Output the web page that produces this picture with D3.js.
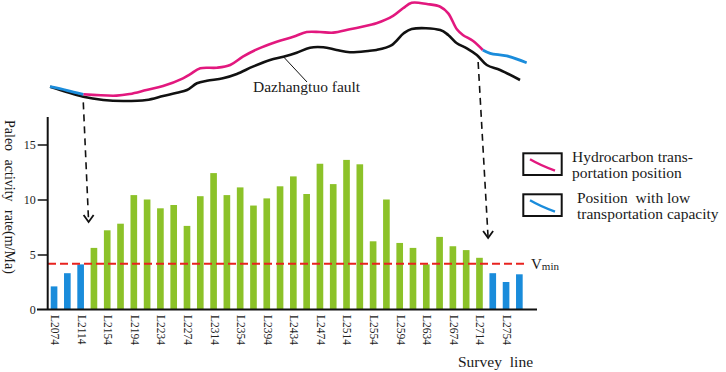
<!DOCTYPE html>
<html lang="en">
<head>
<meta charset="UTF-8">
<title>Paleo activity rate along the Dazhangtuo fault</title>
<script src="https://cdn.jsdelivr.net/npm/d3@7"></script>
<style>
  body { margin: 0; background: #fff; }
  svg { display: block; }
</style>
</head>
<body>
<svg id="chart" width="726" height="372"></svg>
<script>
  // survey lines, one bar each
  const surveyLines = [
    "L2074", "L2094", "L2114", "L2134", "L2154", "L2174", "L2194", "L2214", "L2234",
    "L2254", "L2274", "L2294", "L2314", "L2334", "L2354", "L2374", "L2394", "L2414",
    "L2434", "L2454", "L2474", "L2494", "L2514", "L2534", "L2554", "L2574", "L2594",
    "L2614", "L2634", "L2654", "L2674", "L2694", "L2714", "L2734", "L2754", "L2774"
  ];
  // paleo activity rate (m/Ma)
  const rates = [
    2.1, 3.3, 4.1, 5.6, 7.2, 7.8, 10.4, 10.0, 9.2,
    9.5, 7.6, 10.3, 12.4, 10.4, 11.1, 9.45, 10.1, 11.2,
    12.1, 10.5, 13.25, 11.4, 13.6, 13.2, 6.2, 10.0, 6.05,
    5.6, 4.1, 6.6, 5.75, 5.4, 4.7, 3.3, 2.5, 3.2
  ];
  const lowCapacity = ["L2074", "L2094", "L2114", "L2734", "L2754", "L2774"];
  const labelledLines = surveyLines.filter((d, i) => i % 2 === 0);
  const yTicks = [0, 5, 10, 15];
  const vMin = 4.15;

  // schematic profile above the chart: [survey line number, relative elevation]
  const faultProfile = [
    [2068, 17.4], [2118, 7.9], [2148, 4.8], [2178, 3.8], [2213, 4.8], [2238, 8.6],
    [2259, 11.7], [2274, 14.3], [2289, 20.7], [2304, 23.1], [2328, 25.4], [2349, 29.5],
    [2373, 36.5], [2399, 42.9], [2419, 46], [2439, 49.8], [2459, 54.6], [2479, 55],
    [2499, 52.4], [2519, 50.2], [2549, 51.7], [2559, 52.4], [2582, 57.1], [2600, 68.3],
    [2612, 72.4], [2655, 71.4], [2667, 66.7], [2680, 58.8], [2695, 54], [2710, 47.6],
    [2725, 38.1], [2745, 33.3], [2775, 23.8]
  ];
  const transportProfile = [
    [2118, 10.2], [2168, 8.9], [2188, 10.5], [2213, 14.3], [2238, 18.1], [2268, 25.4],
    [2279, 29.5], [2294, 35], [2319, 35.5], [2339, 38.1], [2358, 46], [2379, 53],
    [2409, 60.3], [2434, 65], [2454, 69.5], [2474, 69.5], [2494, 68.9], [2519, 72.1],
    [2549, 76.2], [2559, 77.8], [2584, 84.8], [2599, 92.1], [2612, 97.4], [2635, 96.2],
    [2655, 93.6], [2667, 87.3], [2680, 72.1], [2689, 66.7], [2704, 61.2], [2719, 52.4]
  ];
  const lowWestProfile = [[2068, 17.4], [2093, 14], [2118, 10.2]];
  const lowEastProfile = [[2719, 52.4], [2730, 49.2], [2755, 46.7], [2785, 40.3]];

  // arrows: from the profile (line, elevation) down to the chart (line, rate)
  const arrows = [
    { from: [2118, 2.5], to: [2126, 7.95] },
    { from: [2712, 41], to: [2727, 6.5] }
  ];

  const green = "#8cc229", blue = "#1a8cdb", pink = "#e2187e";
  const serif = "\"Liberation Serif\", \"Times New Roman\", serif";

  const svg = d3.select("#chart")
    .attr("font-family", serif)
    .attr("fill", "#1a1a1a");

  const x = d3.scaleBand()
    .domain(surveyLines)
    .range([47.4, 526])
    .paddingInner(0.5)
    .paddingOuter(0.25);

  const y = d3.scaleLinear()
    .domain([0, 17.5])
    .range([309.5, 117]);

  // profile scales
  const xLine = d3.scaleLinear()
    .domain([2074, 2774])
    .range([x("L2074") + x.bandwidth() / 2, x("L2774") + x.bandwidth() / 2]);
  const yElev = d3.scaleLinear().domain([0, 100]).range([105, 0]);

  const line = d3.line()
    .x(d => xLine(d[0]))
    .y(d => yElev(d[1]))
    .curve(d3.curveCatmullRom.alpha(0.5));

  svg.append("path").datum(faultProfile)
    .attr("d", line).attr("fill", "none")
    .attr("stroke", "#111").attr("stroke-width", 2.6);
  svg.append("path").datum(transportProfile)
    .attr("d", line).attr("fill", "none")
    .attr("stroke", pink).attr("stroke-width", 2.6);
  [lowWestProfile, lowEastProfile].forEach(p => {
    svg.append("path").datum(p)
      .attr("d", line).attr("fill", "none")
      .attr("stroke", blue).attr("stroke-width", 2.8);
  });

  // fault label with leader line
  svg.append("line")
    .attr("x1", xLine(2419)).attr("y1", yElev(46))
    .attr("x2", 307).attr("y2", 82)
    .attr("stroke", "#111").attr("stroke-width", 1);
  svg.append("text")
    .attr("x", 253).attr("y", 92)
    .attr("font-family", serif)
    .attr("font-size", 15.5)
    .text("Dazhangtuo fault");

  // bars
  svg.append("g")
    .selectAll("rect")
    .data(surveyLines)
    .join("rect")
    .attr("x", d => x(d))
    .attr("width", x.bandwidth())
    .attr("y", (d, i) => y(rates[i]))
    .attr("height", (d, i) => y(0) - y(rates[i]))
    .attr("fill", d => lowCapacity.includes(d) ? blue : green);

  // Vmin threshold
  svg.append("line")
    .attr("x1", 48).attr("x2", 527)
    .attr("y1", y(vMin)).attr("y2", y(vMin))
    .attr("stroke", "#e8231f").attr("stroke-width", 2)
    .attr("stroke-dasharray", "8,4");
  const vt = svg.append("text")
    .attr("x", 531).attr("y", y(vMin) + 5)
    .attr("font-family", serif)
    .attr("font-size", 15);
  vt.append("tspan").text("V");
  vt.append("tspan").attr("font-size", 11).attr("dy", 1).text("min");

  // y axis
  const yAxis = svg.append("g")
    .attr("transform", "translate(47.7,0)")
    .call(d3.axisLeft(y).tickValues(yTicks).tickSize(10).tickPadding(2))
    .call(g => g.select(".domain").remove());
  yAxis.selectAll("line").attr("stroke", "#111").attr("stroke-width", 1.5);
  yAxis.selectAll("text")
    .attr("font-family", serif)
    .attr("font-size", 12).attr("fill", "#222");
  yAxis.selectAll(".tick").filter(d => d === 0).select("line").remove();

  svg.append("line")
    .attr("x1", 47.7).attr("x2", 47.7)
    .attr("y1", y(17.5)).attr("y2", y(0))
    .attr("stroke", "#111").attr("stroke-width", 2);
  svg.append("line")
    .attr("x1", 37).attr("x2", 537)
    .attr("y1", y(0)).attr("y2", y(0))
    .attr("stroke", "#111").attr("stroke-width", 2);

  // survey line labels (rotated)
  svg.append("g")
    .selectAll("text")
    .data(labelledLines)
    .join("text")
    .attr("transform", d => `translate(${x(d) + x.bandwidth() / 2 + 1},315) rotate(90)`)
    .attr("dy", "0.35em")
    .attr("font-family", serif)
    .attr("font-size", 11.5)
    .attr("fill", "#222")
    .text(d => d);

  svg.append("text")
    .attr("x", 458).attr("y", 367)
    .attr("font-family", serif)
    .attr("font-size", 15.5)
    .attr("word-spacing", 4)
    .text("Survey line");

  svg.append("text")
    .attr("transform", "translate(10,120) rotate(90)")
    .attr("dy", "0.35em")
    .attr("font-family", serif)
    .attr("font-size", 14)
    .attr("word-spacing", 5)
    .text("Paleo activity rate(m/Ma)");

  // dashed arrows
  arrows.forEach(a => {
    const x1 = xLine(a.from[0]), y1 = yElev(a.from[1]);
    const x2 = xLine(a.to[0]), y2 = y(a.to[1]);
    svg.append("line")
      .attr("x1", x1).attr("y1", y1).attr("x2", x2).attr("y2", y2)
      .attr("stroke", "#111").attr("stroke-width", 1.6)
      .attr("stroke-dasharray", "7,5");
    svg.append("path")
      .attr("d", `M${x2 - 5},${y2 - 7}L${x2},${y2}L${x2 + 5},${y2 - 7}`)
      .attr("fill", "none").attr("stroke", "#111").attr("stroke-width", 1.8);
  });

  // legend
  const legend = [
    { color: pink, lines: ["Hydrocarbon trans-", "portation position"], y: 153.3, tx: 572 },
    { color: blue, lines: ["Position  with low", "transportation capacity"], y: 194.3, tx: 577 }
  ];
  legend.forEach(l => {
    const g = svg.append("g").attr("transform", `translate(523.3,${l.y})`);
    g.append("rect")
      .attr("width", 38.4).attr("height", 21.7)
      .attr("fill", "#fff").attr("stroke", "#111").attr("stroke-width", 2);
    g.append("path")
      .attr("d", "M6.7,6 Q17,12 31.7,17.4")
      .attr("fill", "none").attr("stroke", l.color).attr("stroke-width", 2.4);
    l.lines.forEach((t, i) => {
      svg.append("text")
        .attr("x", l.tx).attr("y", l.y + 8.4 + i * 16.7)
        .attr("font-family", serif)
        .attr("font-size", 15.5)
        .attr("xml:space", "preserve")
        .text(t);
    });
  });
</script>
</body>
</html>
